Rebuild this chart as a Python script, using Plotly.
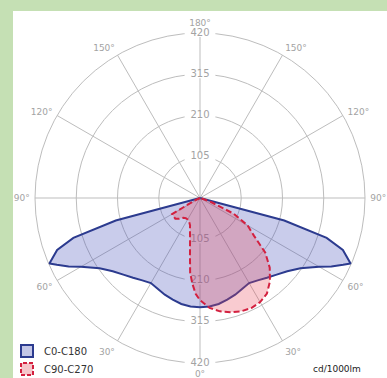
import plotly.graph_objects as go

# Luminous intensity distribution, cd/1000lm, gamma measured from nadir
GAMMA_C0 = [0, 5, 10, 15, 20, 25, 30, 35, 40, 45, 50, 55, 60, 62.5, 65, 66.5, 70, 72.5, 75, 77.5, 80, 85, 90]
I_C0 = [278, 277, 274, 268, 262, 255, 250, 256, 265, 276, 290, 312, 350, 377, 402, 418, 387, 338, 222, 0, 0, 0, 0]

GAMMA_C90 = [0, 5, 10, 15, 20, 25, 30, 35, 40, 45, 50, 55, 60, 65, 70, 75, 80, 85, 90]
I_C90 = [260, 281, 293, 301, 307, 309, 306, 297, 277, 251, 217, 168, 140, 95, 30, 5, 0, 0, 0]

GAMMA_C270 = [0, 2.5, 5, 7.5, 10, 12.5, 15, 17.5, 20, 25, 30, 35, 40, 45, 50, 55, 60, 65, 70, 90]
I_C270 = [260, 245, 220, 192, 147, 117, 98, 85, 74, 66, 63, 63, 66, 75, 82, 82, 82, 15, 0, 0]

RING_VALUES = [105, 210, 315, 420]
ANGLE_TICKS = list(range(0, 360, 30))
ANGLE_LABELS = ["0°", "30°", "60°", "90°", "120°", "150°", "180°",
                "150°", "120°", "90°", "60°", "30°"]

W, H = 387, 378
CX, CY, R = 200, 198, 165  # polar centre and outer radius in pixels

GRID = "#bdbdbd"
LABEL = "#a3a3a3"
FONT = "DejaVu Sans"


def half_planes(gamma_left, i_left, gamma_right, i_right):
    """Join a left half-plane (theta = 360 - gamma) and a right one (theta = gamma)."""
    theta = [360 - g for g in reversed(gamma_left)] + list(gamma_right)
    r = list(reversed(i_left)) + list(i_right)
    return theta, r


fig = go.Figure()

# radial value labels on the vertical axis; a thick white horizontal bar
# (line-ew marker) breaks the grid behind each number
lab_r = RING_VALUES + RING_VALUES
lab_t = [180] * 4 + [0] * 4
fig.add_trace(go.Scatterpolar(
    r=lab_r, theta=lab_t, mode="markers+text",
    text=[str(v) for v in lab_r], textposition="middle center",
    textfont=dict(family=FONT, size=10, color=LABEL),
    marker=dict(symbol="line-ew", size=22, color="white",
                line=dict(width=8, color="white")),
    cliponaxis=False, hoverinfo="skip", showlegend=False,
))

# C0-C180 plane
t0, r0 = half_planes(GAMMA_C0, I_C0, GAMMA_C0, I_C0)
fig.add_trace(go.Scatterpolar(
    r=r0, theta=t0, mode="lines", fill="toself",
    fillcolor="rgba(70,80,185,0.29)",
    line=dict(color="#2c3b8f", width=2),
    name="C0-C180", showlegend=False,
))

# C90-C270 plane
t1, r1 = half_planes(GAMMA_C270, I_C270, GAMMA_C90, I_C90)
fig.add_trace(go.Scatterpolar(
    r=r1, theta=t1, mode="lines", fill="toself",
    fillcolor="rgba(235,70,85,0.28)",
    line=dict(color="#d3203f", width=2, dash="6px,3px"),
    name="C90-C270", showlegend=False,
))


def px(x):
    return x / W


def py(y):
    return (H - y) / H


fig.update_layout(
    width=W, height=H,
    margin=dict(l=0, r=0, t=0, b=0),
    paper_bgcolor="#c5e0b4",
    showlegend=False,
    polar=dict(
        domain=dict(x=[px(CX - R), px(CX + R)], y=[py(CY + R), py(CY - R)]),
        bgcolor="white",
        radialaxis=dict(range=[0, 420], tickvals=RING_VALUES, showticklabels=False,
                        ticks="", showline=False, gridcolor=GRID, gridwidth=1,
                        layer="below traces"),
        angularaxis=dict(rotation=270, direction="counterclockwise",
                         tickvals=ANGLE_TICKS, ticktext=ANGLE_LABELS,
                         ticks="outside", ticklen=3, tickcolor="rgba(0,0,0,0)",
                         tickfont=dict(family=FONT, size=9, color=LABEL),
                         showline=True, linecolor=GRID, linewidth=1,
                         gridcolor=GRID, gridwidth=1, layer="below traces"),
    ),
    shapes=[
        # white panel on the green frame
        dict(type="rect", xref="paper", yref="paper", x0=px(13), x1=1, y0=0, y1=py(11),
             fillcolor="white", line=dict(width=0), layer="below"),
        # legend swatches
        dict(type="rect", xref="paper", yref="paper", x0=px(21), x1=px(33), y0=py(357), y1=py(345),
             fillcolor="#c3c6e6", line=dict(color="#2c3b8f", width=2)),
        dict(type="rect", xref="paper", yref="paper", x0=px(21), x1=px(33), y0=py(375), y1=py(363),
             fillcolor="#f6c6cb", line=dict(color="#d3203f", width=2, dash="4px,2px")),
    ],
    annotations=[
        dict(x=px(42), y=py(351), xref="paper", yref="paper", text="C0-C180", showarrow=False,
             xanchor="left", yanchor="middle", font=dict(family=FONT, size=10, color="#333333")),
        dict(x=px(42), y=py(369), xref="paper", yref="paper", text="C90-C270", showarrow=False,
             xanchor="left", yanchor="middle", font=dict(family=FONT, size=10, color="#333333")),
        dict(x=px(363), y=py(369), xref="paper", yref="paper", text="cd/1000lm", showarrow=False,
             xanchor="right", yanchor="middle", font=dict(family=FONT, size=9, color="#222222")),
    ],
)

fig.write_html("out.html")
